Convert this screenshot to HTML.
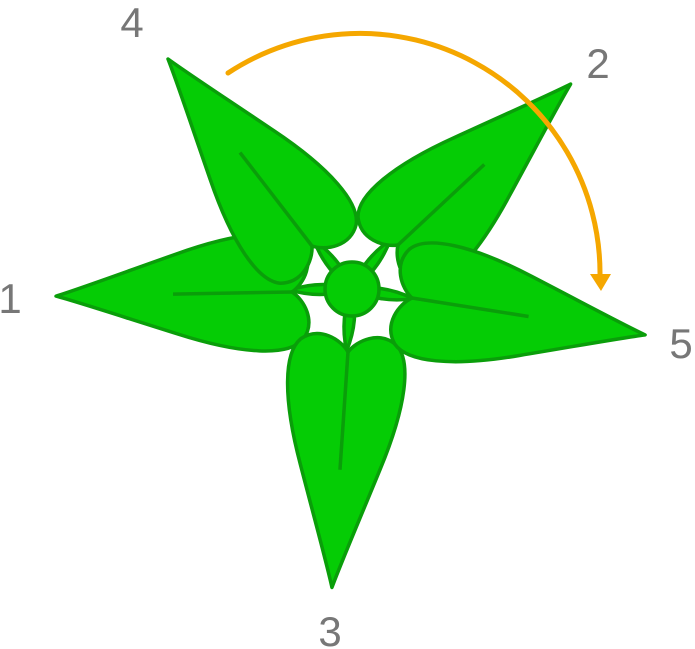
<!DOCTYPE html>
<html><head><style>html,body{margin:0;padding:0;background:#fff}svg{display:block}</style></head>
<body>
<svg width="695" height="649" viewBox="0 0 695 649" xmlns="http://www.w3.org/2000/svg">
<defs>
<path id="leaf" d="M0,0 C-12,-8 -24,-30 -10,-48 C5,-64 50,-62 115,-40 C175,-20 212,-7 236,0 C212,7 175,20 115,40 C50,62 5,64 -10,48 C-24,30 -12,8 0,0Z"/>
<path id="sep" d="M0,0 Q30,-10 62,0 Q30,10 0,0Z"/>
</defs>
<g fill="#05cc05" stroke="#0a9e0a" stroke-width="3.5" stroke-linejoin="round">
<g transform="translate(352,289) rotate(179)"><use href="#sep"/></g>
<g transform="translate(352,289) rotate(-128)"><use href="#sep"/></g>
<g transform="translate(352,289) rotate(-52)"><use href="#sep"/></g>
<g transform="translate(352,289) rotate(9)"><use href="#sep"/></g>
<g transform="translate(352,289) rotate(95)"><use href="#sep"/></g>
<g transform="translate(292,292) rotate(179)"><use href="#leaf"/><line x1="0" y1="0" x2="119" y2="0"/></g>
<g transform="translate(398,245) rotate(-43)"><use href="#leaf"/><line x1="0" y1="0" x2="118" y2="0"/></g>
<g transform="translate(348,352) rotate(93.9)"><use href="#leaf"/><line x1="0" y1="0" x2="118" y2="0"/></g>
<g transform="translate(412,298) rotate(9)"><use href="#leaf"/><line x1="0" y1="0" x2="118" y2="0"/></g>
<g transform="translate(312,246) rotate(-127.6)"><use href="#leaf"/><line x1="0" y1="0" x2="118" y2="0"/></g>
<circle cx="352" cy="289" r="27"/>
</g>
<path d="M228,73 A240,240 0 0 1 600,276" fill="none" stroke="#f5a700" stroke-width="5" stroke-linecap="round"/>
<path d="M590,274 L611,274 L601,291Z" fill="#f5a700"/>
<g font-family="Liberation Sans, sans-serif" font-size="42" fill="#777" text-anchor="middle">
<text x="132" y="37">4</text>
<text x="598" y="78">2</text>
<text x="10" y="313">1</text>
<text x="681" y="358">5</text>
<text x="330" y="646">3</text>
</g>
</svg>
</body></html>
